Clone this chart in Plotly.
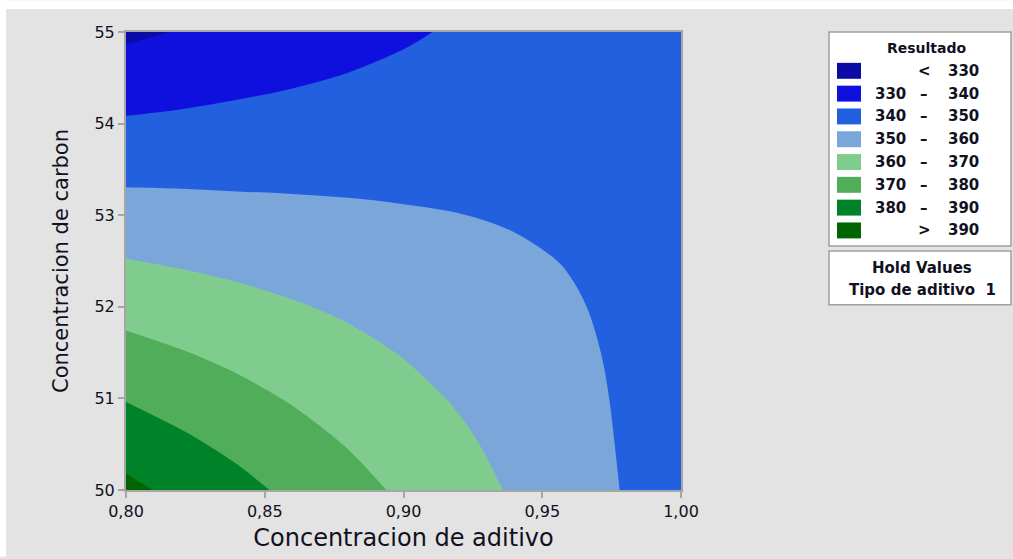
import plotly.graph_objects as go

# ---------------- data ----------------
x_aditivo = [0.80, 0.82, 0.84, 0.86, 0.88, 0.90, 0.92, 0.94, 0.96, 0.98, 1.00]
y_carbon = [50.0, 50.5, 51.0, 51.5, 52.0, 52.5, 53.0, 53.5, 54.0, 54.5, 55.0]
# rows follow y_carbon, columns follow x_aditivo
resultado = [
    [392.3, 387.5, 382.8, 378.0, 373.3, 368.5, 363.7, 359.0, 354.2, 349.5, 344.7],
    [385.9, 381.8, 377.8, 373.7, 369.6, 365.5, 361.5, 357.4, 353.3, 349.2, 345.2],
    [379.5, 376.1, 372.7, 369.3, 366.0, 362.6, 359.2, 355.8, 352.4, 349.0, 345.6],
    [373.1, 370.4, 367.7, 365.0, 362.3, 359.6, 356.9, 354.2, 351.5, 348.8, 346.1],
    [366.7, 364.7, 362.7, 360.7, 358.7, 356.6, 354.6, 352.6, 350.6, 348.6, 346.6],
    [360.3, 359.0, 357.7, 356.3, 355.0, 353.7, 352.4, 351.0, 349.7, 348.4, 347.1],
    [353.9, 353.3, 352.6, 352.0, 351.4, 350.7, 350.1, 349.4, 348.8, 348.2, 347.5],
    [347.5, 347.6, 347.6, 347.7, 347.7, 347.8, 347.8, 347.8, 347.9, 347.9, 348.0],
    [341.1, 341.8, 342.6, 343.3, 344.0, 344.8, 345.5, 346.3, 347.0, 347.7, 348.5],
    [334.7, 336.1, 337.6, 339.0, 340.4, 341.8, 343.2, 344.7, 346.1, 347.5, 348.9],
    [328.3, 330.4, 332.5, 334.6, 336.7, 338.9, 341.0, 343.1, 345.2, 347.3, 349.4],
]
level_start, level_end, level_step = 330, 390, 10
band_left = ["", "330", "340", "350", "360", "370", "380", ""]
band_mid = ["<", "–", "–", "–", "–", "–", "–", ">"]
band_right = ["330", "340", "350", "360", "370", "380", "390", "390"]
band_colors = ["#0b0ba6", "#1010de", "#2260e0", "#7ba6d9", "#80cc8e",
               "#50ae5b", "#008228", "#006400"]
x_ticks = [0.80, 0.85, 0.90, 0.95, 1.00]
y_ticks = [50, 51, 52, 53, 54, 55]

# ---------------- figure ----------------
W, H = 1013, 559
L, R, T, B = 126, 681, 32, 492  # plot area in pixels


def px(xp):
    return (xp - L) / (R - L)


def py(yp):
    return (B - yp) / (B - T)


n = len(band_colors)
colorscale = []
for k, c in enumerate(band_colors):
    lo = max(0.0, (k - 0.5) / (n - 1))
    hi = min(1.0, (k + 0.5) / (n - 1))
    colorscale.append([lo, c])
    colorscale.append([hi, c])

fig = go.Figure(go.Contour(
    x=x_aditivo, y=y_carbon, z=resultado,
    contours=dict(start=level_start, end=level_end, size=level_step,
                  coloring="fill", showlines=False),
    colorscale=colorscale, showscale=False,
    line=dict(width=0, smoothing=1.0),
    hoverinfo="x+y+z",
))

FONT = "DejaVu Sans"
TXT = "#111122"
axis_common = dict(showline=True, mirror=True, linecolor="#a6a6a6", linewidth=2,
                   ticks="outside", ticklen=6, tickwidth=2, tickcolor="#a6a6a6",
                   showgrid=False, zeroline=False,
                   tickfont=dict(family=FONT, size=16, color=TXT))

fig.update_layout(
    width=W, height=H,
    margin=dict(l=L, r=W - R, t=T, b=H - B, pad=0),
    paper_bgcolor="#e3e3e3", plot_bgcolor="#e3e3e3",
    separators=", ",
    font=dict(family=FONT, color=TXT),
    xaxis=dict(range=[0.80, 1.00], tickvals=x_ticks, tickformat=".2f",
               title=dict(text="Concentracion de aditivo",
                          font=dict(family=FONT, size=24, color=TXT), standoff=9),
               **axis_common),
    yaxis=dict(range=[50, 55], tickvals=y_ticks, tickformat="d",
               title=dict(text="Concentracion de carbon",
                          font=dict(family=FONT, size=21, color=TXT), standoff=20),
               **axis_common),
)

shapes = []
annotations = []
# white strips outside the gray panel
shapes.append(dict(type="rect", xref="paper", yref="paper", layer="below",
                   x0=px(0), x1=px(W), y0=py(9), y1=py(0),
                   fillcolor="white", line=dict(width=0)))
shapes.append(dict(type="rect", xref="paper", yref="paper", layer="below",
                   x0=px(0), x1=px(6), y0=py(H), y1=py(0),
                   fillcolor="white", line=dict(width=0)))

LEG = dict(family=FONT, size=15, color=TXT, weight="bold")
# legend box
shapes.append(dict(type="rect", xref="paper", yref="paper",
                   x0=px(829), x1=px(1011), y0=py(247), y1=py(32),
                   fillcolor="white", line=dict(color="#a0a0a0", width=1.5)))
annotations.append(dict(xref="paper", yref="paper", x=px(927), y=py(48),
                        text="Resultado", showarrow=False, xanchor="center",
                        yanchor="middle", font=dict(LEG, size=14)))
row0, dy = 71, 22.9
for k in range(n):
    yc = row0 + k * dy
    shapes.append(dict(type="rect", xref="paper", yref="paper",
                       x0=px(837), x1=px(861), y0=py(yc + 8), y1=py(yc - 8),
                       fillcolor=band_colors[k], line=dict(width=0)))
    if band_left[k]:
        annotations.append(dict(xref="paper", yref="paper", x=px(873), y=py(yc),
                                text=band_left[k], showarrow=False, xanchor="left",
                                yanchor="middle", font=LEG))
    annotations.append(dict(xref="paper", yref="paper", x=px(924), y=py(yc),
                            text=band_mid[k], showarrow=False, xanchor="center",
                            yanchor="middle", font=LEG))
    annotations.append(dict(xref="paper", yref="paper", x=px(981), y=py(yc),
                            text=band_right[k], showarrow=False, xanchor="right",
                            yanchor="middle", font=LEG))

# hold values box
shapes.append(dict(type="rect", xref="paper", yref="paper",
                   x0=px(829), x1=px(1011), y0=py(306), y1=py(252),
                   fillcolor="white", line=dict(color="#a0a0a0", width=1.5)))
annotations.append(dict(xref="paper", yref="paper", x=px(922), y=py(269),
                        text="Hold Values", showarrow=False, xanchor="center",
                        yanchor="middle", font=LEG))
annotations.append(dict(xref="paper", yref="paper", x=px(922), y=py(291),
                        text="Tipo de aditivo  1", showarrow=False, xanchor="center",
                        yanchor="middle", font=LEG))

fig.update_layout(shapes=shapes, annotations=annotations)
fig.write_html("out.html")
